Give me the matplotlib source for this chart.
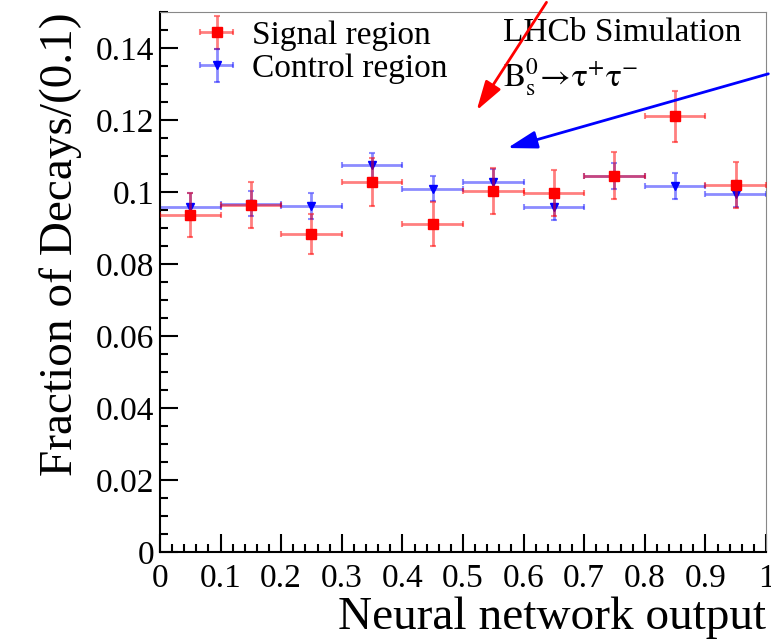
import numpy as np
import matplotlib
matplotlib.use("Agg")
import matplotlib.pyplot as plt
from matplotlib.ticker import MultipleLocator, FormatStrFormatter

plt.rcParams['font.family'] = ['Liberation Serif', 'DejaVu Serif']
plt.rcParams['mathtext.fontset'] = 'stix'

# bin centres of the neural network output
nn_bins = [0.05, 0.15, 0.25, 0.35, 0.45, 0.55, 0.65, 0.75, 0.85, 0.95]
bin_half = 0.05

# signal region (red squares)
signal = [0.0936, 0.0964, 0.0884, 0.1028, 0.0912, 0.1004, 0.0997, 0.1045, 0.1210, 0.1020]
signal_err = [0.0061, 0.0063, 0.0056, 0.0066, 0.0061, 0.0064, 0.0064, 0.0065, 0.0070, 0.0064]

# control region (blue triangles)
control = [0.0959, 0.0967, 0.0961, 0.1074, 0.1009, 0.1029, 0.0958, 0.1045, 0.1016, 0.0995]
control_err = [0.0038, 0.0035, 0.0035, 0.0035, 0.0035, 0.0035, 0.0036, 0.0036, 0.0036, 0.0036]

fig = plt.figure(figsize=(7.71, 6.41), dpi=100)
ax = fig.add_axes([0.2075, 0.1388, 0.786, 0.8425])

sig = ax.errorbar(nn_bins, signal, xerr=bin_half, yerr=signal_err, fmt='s',
                  color='red', ecolor=(1, 0, 0, 0.5), ms=7, elinewidth=2,
                  capsize=2, capthick=1.5, label='Signal region', zorder=3)
ctl = ax.errorbar(nn_bins, control, xerr=bin_half, yerr=control_err, fmt='v',
                  color='blue', ecolor=(0, 0, 1, 0.45), ms=6, elinewidth=2,
                  capsize=2, capthick=1.5, label='Control region', zorder=2)

ax.set_xlim(0, 1)
ax.set_ylim(0, 0.15)
ax.xaxis.set_major_locator(MultipleLocator(0.1))
ax.xaxis.set_minor_locator(MultipleLocator(0.02))
ax.yaxis.set_major_locator(MultipleLocator(0.02))
ax.yaxis.set_minor_locator(MultipleLocator(0.005))
ax.xaxis.set_major_formatter(FormatStrFormatter('%g'))
ax.yaxis.set_major_formatter(FormatStrFormatter('%g'))
ax.tick_params(which='both', direction='in', labelsize=24, width=1.5)
ax.tick_params(which='major', length=13)
ax.tick_params(which='minor', length=6)
ax.tick_params(axis='x', pad=8)
ax.tick_params(axis='y', pad=4)
for side in ['top', 'right']:
    ax.spines[side].set_color('#888888')
for side in ['left', 'bottom']:
    ax.spines[side].set_linewidth(1.5)

ax.set_xlabel('Neural network output', fontsize=34, loc='right', labelpad=2)
ax.set_ylabel('Fraction of Decays/(0.1)', fontsize=34, loc='top', labelpad=10)

ax.legend(loc='upper left', bbox_to_anchor=(0.0, 1.04), frameon=False,
          fontsize=24, handlelength=1.6, handletextpad=0.25, labelspacing=0.08)

ax.text(0.566, 0.962, 'LHCb Simulation', transform=ax.transAxes,
        fontsize=24, va='center', ha='left')
ax.text(0.566, 0.88, r'$\mathrm{B_s^0\!\rightarrow\!\tau^{+}\tau^{-}}$',
        transform=ax.transAxes, fontsize=24, va='center', ha='left')

# pointer arrows
ax.annotate('', xy=(0.52, 0.122), xytext=(548 / 771, 1.0),
            textcoords='figure fraction', annotation_clip=False,
            arrowprops=dict(arrowstyle='-|>,head_length=1.0,head_width=0.3',
                            color='red', lw=2, mutation_scale=18))
ax.annotate('', xy=(0.569, 0.112), xytext=(1.0, 0.886),
            textcoords='figure fraction', annotation_clip=False,
            arrowprops=dict(arrowstyle='-|>,head_length=1.0,head_width=0.3',
                            color='blue', lw=2, mutation_scale=18))

fig.savefig('out.png', dpi=100)
